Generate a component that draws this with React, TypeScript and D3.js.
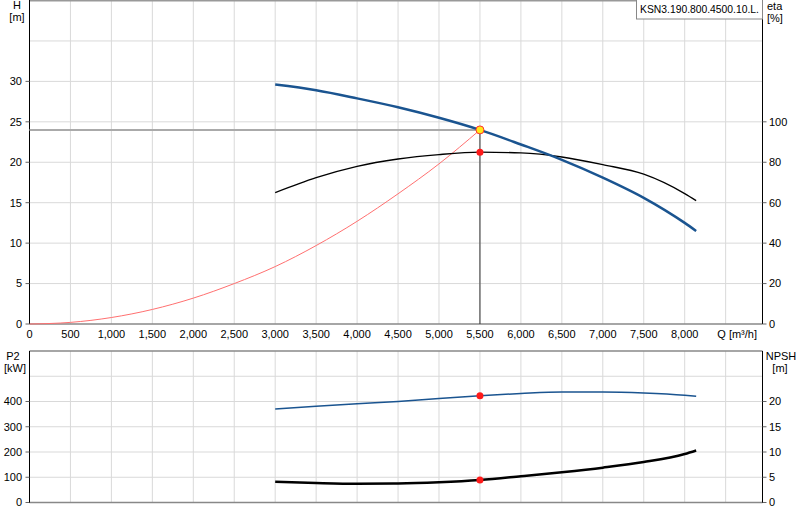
import React from 'react';
import { scaleLinear, line, curveMonotoneX, range } from 'd3';

// head curve [m]
const headQ = [3000, 3500, 4000, 4500, 5000, 5500, 6000, 6500, 7000, 7500, 8000, 8140];
const headH = [29.6, 28.9, 27.9, 26.8, 25.5, 24.0, 22.2, 20.3, 18.1, 15.6, 12.5, 11.5];
// efficiency [%]
const etaQ = [3000, 3500, 4000, 4500, 5000, 5500, 6000, 6500, 7000, 7500, 8000, 8140];
const etaV = [65, 72.4, 78, 81.6, 83.8, 85, 84.6, 82.6, 78.8, 74.1, 64.5, 61];
// system curve [m]
const sysQ = [0, 500, 1000, 1500, 2000, 2500, 3000, 3500, 4000, 4500, 5000, 5500];
const sysH = [0, 0.2, 0.8, 1.8, 3.2, 5.0, 7.1, 9.7, 12.7, 16.1, 19.8, 24];
// power [kW]
const p2Q = [3000, 3500, 4000, 4500, 5000, 5500, 6000, 6500, 7000, 7500, 8000, 8140];
const p2V = [370, 381, 391, 400, 412, 423, 432, 438, 438, 434, 425, 421];
// npsh [m]
const npshQ = [3000, 3500, 4000, 4500, 5000, 5500, 6000, 6500, 7000, 7500, 8000, 8140];
const npshV = [4.1, 3.85, 3.7, 3.75, 4.0, 4.45, 5.2, 6.0, 6.9, 8.0, 9.6, 10.3];

const dutyQ = 5500;
const dutyH = 24;
const dutyEta = 85;
const dutyP2 = 423;
const dutyNpsh = 4.45;

const qTicks = range(0, 8001, 500);
const qGrid = range(500, 8501, 500);
const hTicks = [0, 5, 10, 15, 20, 25, 30];
const hGrid = [5, 10, 15, 20, 25, 30, 35];
const etaTicks = [0, 20, 40, 60, 80, 100];
const p2Ticks = [0, 100, 200, 300, 400];
const p2Grid = [100, 200, 300, 400, 500];
const npshTicks = [0, 5, 10, 15, 20];

const title = 'KSN3.190.800.4500.10.L.';

const fmt = (v: number) => v >= 1000 ? `${Math.floor(v / 1000)},${String(v % 1000).padStart(3, '0')}` : `${v}`;

export default function App() {
  const left = 29.5, right = 762.5;
  const x = scaleLinear().domain([0, 8950]).range([left, right]);
  const yH = scaleLinear().domain([0, 40]).range([324, 0.5]);
  const yEta = scaleLinear().domain([0, 160]).range([324, 0.5]);
  const yP = scaleLinear().domain([0, 600]).range([502.5, 351]);
  const yN = scaleLinear().domain([0, 30]).range([502.5, 351]);

  const mk = (xs: number[], ys: number[], sy: any) =>
    line<number>().x((d, i) => x(xs[i])).y((d, i) => sy(ys[i])).curve(curveMonotoneX)(ys) || '';

  const font = { fontFamily: '"Liberation Sans", Arial, sans-serif', fontSize: 11 };
  const grid = '#d9d9d9';

  return (
    <svg width={800} height={520} style={{ position: 'absolute', left: 0, top: 0, background: '#fff' }}>
      <rect width={800} height={520} fill="#fff" />
      <g style={font}>
        {/* grid */}
        {qGrid.map(q => (
          <g key={'gv' + q}>
            <line x1={x(q)} x2={x(q)} y1={0} y2={324} stroke={grid} />
            <line x1={x(q)} x2={x(q)} y1={351} y2={502.5} stroke={grid} />
          </g>
        ))}
        {hGrid.map(h => <line key={'gh' + h} x1={left} x2={right} y1={yH(h)} y2={yH(h)} stroke={grid} />)}
        {p2Grid.map(p => <line key={'gp' + p} x1={left} x2={right} y1={yP(p)} y2={yP(p)} stroke={grid} />)}

        {/* frames */}
        <line x1={left} x2={right} y1={0.75} y2={0.75} stroke="#999" strokeWidth={1.5} />
        <line x1={left} x2={right} y1={324} y2={324} stroke="#888" strokeWidth={1.5} />
        <line x1={left} x2={right} y1={351} y2={351} stroke="#888" strokeWidth={1.5} />
        <line x1={left} x2={right} y1={502.5} y2={502.5} stroke="#888" strokeWidth={1.5} />
        <line x1={left} x2={left} y1={0} y2={324} stroke="#000" />
        <line x1={right} x2={right} y1={0} y2={324} stroke="#000" />
        <line x1={left} x2={left} y1={351} y2={503} stroke="#000" />
        <line x1={right} x2={right} y1={351} y2={503} stroke="#000" />

        {/* duty lines */}
        <line x1={left} x2={x(dutyQ)} y1={yH(dutyH)} y2={yH(dutyH)} stroke="#aaa" strokeWidth={2} />
        <line x1={x(dutyQ)} x2={x(dutyQ)} y1={yH(dutyH)} y2={324} stroke="#333" strokeWidth={1} />

        {/* curves */}
        <path d={mk(sysQ, sysH, yH)} fill="none" stroke="#ff7070" strokeWidth={1} />
        <path d={mk(etaQ, etaV, yEta)} fill="none" stroke="#000" strokeWidth={1.3} />
        <path d={mk(headQ, headH, yH)} fill="none" stroke="#1a5490" strokeWidth={2.5} />
        <path d={mk(p2Q, p2V, yP)} fill="none" stroke="#1a5490" strokeWidth={1.5} />
        <path d={mk(npshQ, npshV, yN)} fill="none" stroke="#000" strokeWidth={2.5} />

        {/* duty points */}
        <circle cx={x(dutyQ)} cy={yEta(dutyEta)} r={3.5} fill="#ff1a1a" />
        <circle cx={x(dutyQ)} cy={yH(dutyH)} r={4} fill="#ffe81a" stroke="#ff3030" strokeWidth={1} />
        <circle cx={x(dutyQ)} cy={yP(dutyP2)} r={3.5} fill="#ff1a1a" />
        <circle cx={x(dutyQ)} cy={yN(dutyNpsh)} r={3.5} fill="#ff1a1a" />

        {/* ticks */}
        {hTicks.map(h => (
          <g key={'th' + h}>
            <line x1={left - 4} x2={left} y1={yH(h)} y2={yH(h)} stroke="#666" />
            <text x={22} y={yH(h)} dy="0.35em" textAnchor="end">{h}</text>
          </g>
        ))}
        {etaTicks.map(e => (
          <g key={'te' + e}>
            <line x1={right} x2={right + 4} y1={yEta(e)} y2={yEta(e)} stroke="#666" />
            <text x={769} y={yEta(e)} dy="0.35em">{e}</text>
          </g>
        ))}
        {p2Ticks.map(p => (
          <g key={'tp' + p}>
            <line x1={left - 4} x2={left} y1={yP(p)} y2={yP(p)} stroke="#666" />
            <text x={22} y={yP(p)} dy="0.35em" textAnchor="end">{p}</text>
          </g>
        ))}
        {npshTicks.map(n => (
          <g key={'tn' + n}>
            <line x1={right} x2={right + 4} y1={yN(n)} y2={yN(n)} stroke="#666" />
            <text x={769} y={yN(n)} dy="0.35em">{n}</text>
          </g>
        ))}
        {qTicks.map(q => (
          <text key={'tq' + q} x={x(q)} y={338} textAnchor="middle">{fmt(q)}</text>
        ))}
        <text x={757} y={338} textAnchor="end">Q [m³/h]</text>

        {/* axis titles */}
        <text x={17} y={9} textAnchor="middle">H</text>
        <text x={17} y={21} textAnchor="middle">[m]</text>
        <text x={767} y={10}>eta</text>
        <text x={767} y={22}>[%]</text>
        <text x={13} y={360} textAnchor="middle">P2</text>
        <text x={15} y={372} textAnchor="middle">[kW]</text>
        <text x={781} y={360} textAnchor="middle">NPSH</text>
        <text x={780} y={372} textAnchor="middle">[m]</text>

        {/* title box */}
        <rect x={636.5} y={-1} width={right - 636.5} height={20} fill="#fff" stroke="#888" />
        <text x={640} y={13} fontSize={10.5} textLength={119} lengthAdjust="spacingAndGlyphs">{title}</text>
      </g>
    </svg>
  );
}
